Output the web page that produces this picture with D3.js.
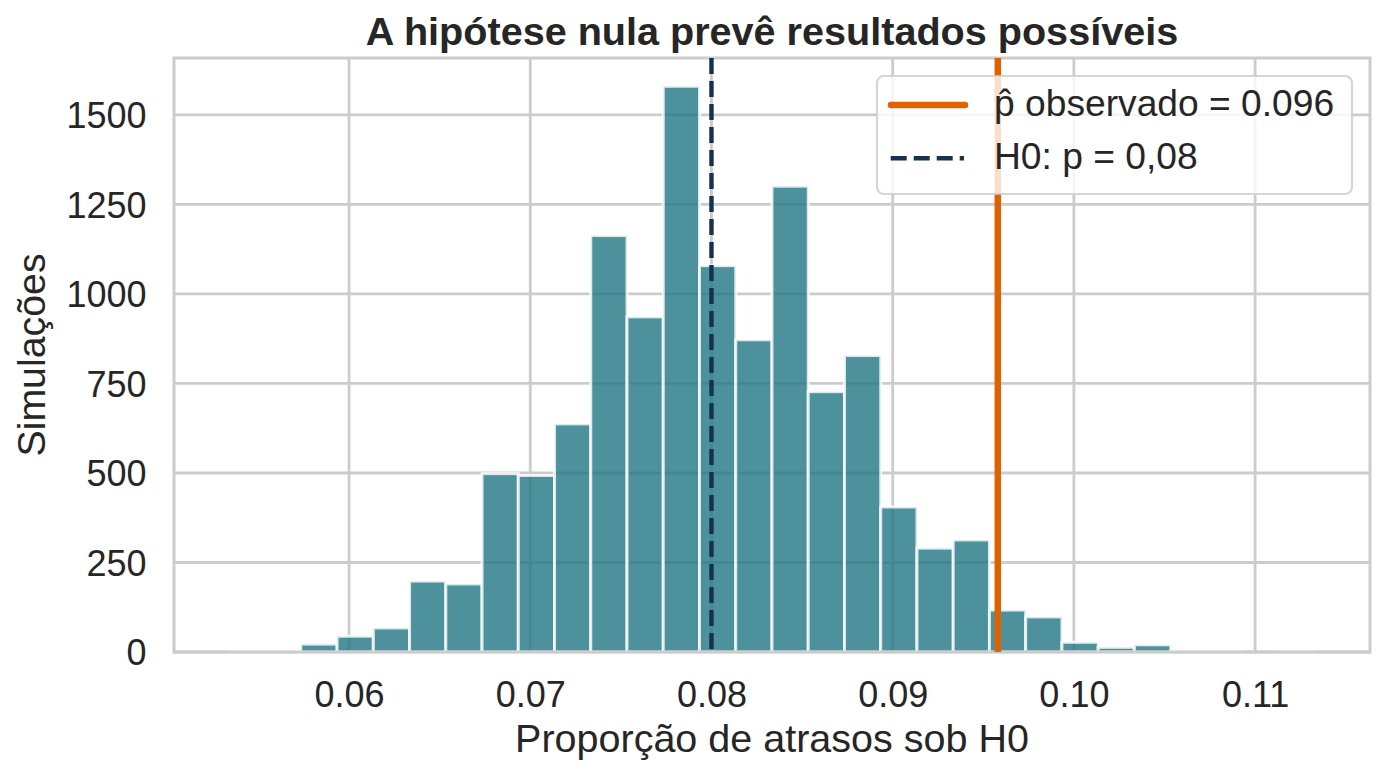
<!DOCTYPE html>
<html>
<head>
<meta charset="utf-8">
<script src="https://cdn.jsdelivr.net/npm/d3@7"></script>
<style>
  html, body { margin: 0; padding: 0; background: #ffffff; }
  svg { display: block; }
  text { font-family: "Liberation Sans", Arial, "DejaVu Sans", sans-serif; fill: #262626; }
</style>
</head>
<body>
<svg id="chart" width="1385" height="777"></svg>
<script>
// ---- data ----
const binEdges = [0.05334, 0.05534, 0.05734, 0.05934, 0.06134, 0.06334, 0.06534, 0.06734,
  0.06934, 0.07134, 0.07334, 0.07534, 0.07734, 0.07934, 0.08134, 0.08334, 0.08534,
  0.08734, 0.08934, 0.09134, 0.09334, 0.09534, 0.09734, 0.09934, 0.10134, 0.10334,
  0.10534, 0.10734, 0.10934, 0.11134, 0.11334];
const binCounts = [1, 2, 22, 44, 67, 198, 190, 498, 493, 637, 1163, 936, 1580, 1079, 872,
  1301, 727, 828, 405, 290, 313, 117, 98, 27, 13, 20, 2, 1, 0, 1];
const xTicks = [0.06, 0.07, 0.08, 0.09, 0.10, 0.11];
const xTickLabels = ["0.06", "0.07", "0.08", "0.09", "0.10", "0.11"];
const yTicks = [0, 250, 500, 750, 1000, 1250, 1500];
const pObserved = 0.0958;
const pNull = 0.08;
const legendLabels = ["p\u0302 observado = 0.096", "H0: p = 0,08"];
const titleText = "A hipótese nula prevê resultados possíveis";
const xLabelText = "Proporção de atrasos sob H0";
const yLabelText = "Simulações";

// ---- layout ----
const svg = d3.select("#chart");
const W = 1385, H = 777;
const m = { left: 174, right: 1370, top: 58, bottom: 652 };
svg.append("rect").attr("width", W).attr("height", H).attr("fill", "#ffffff");

const xmin = d3.min(binEdges), xmax = d3.max(binEdges);
const pad = 0.05 * (xmax - xmin);
const x = d3.scaleLinear().domain([xmin - pad, xmax + pad]).range([m.left, m.right]);
const y = d3.scaleLinear().domain([0, d3.max(binCounts) * 1.05]).range([m.bottom, m.top]);

const gridColor = "#cccccc";

// grid
const grid = svg.append("g");
grid.selectAll("line.vx").data(xTicks).join("line")
  .attr("x1", d => x(d)).attr("x2", d => x(d))
  .attr("y1", m.top).attr("y2", m.bottom)
  .attr("stroke", gridColor).attr("stroke-width", 2.8);
grid.selectAll("line.hy").data(yTicks).join("line")
  .attr("y1", d => y(d)).attr("y2", d => y(d))
  .attr("x1", m.left).attr("x2", m.right)
  .attr("stroke", gridColor).attr("stroke-width", 2.8);

// bars
const bins = binCounts.map((c, i) => ({ x0: binEdges[i], x1: binEdges[i + 1], c }));
svg.append("g").selectAll("rect").data(bins.filter(d => d.c > 0)).join("rect")
  .attr("x", d => x(d.x0))
  .attr("width", d => x(d.x1) - x(d.x0))
  .attr("y", d => y(d.c))
  .attr("height", d => y(0) - y(d.c))
  .attr("fill", "#1f7582").attr("fill-opacity", 0.8)
  .attr("stroke", "#ffffff").attr("stroke-opacity", 0.8).attr("stroke-width", 3);

// frame
svg.append("rect")
  .attr("x", m.left).attr("y", m.top)
  .attr("width", m.right - m.left).attr("height", m.bottom - m.top)
  .attr("fill", "none").attr("stroke", gridColor).attr("stroke-width", 3);

// reference lines
const orange = "#dc6202", navy = "#17304d";
svg.append("line")
  .attr("x1", x(pNull)).attr("x2", x(pNull)).attr("y1", m.top).attr("y2", m.bottom)
  .attr("stroke", navy).attr("stroke-width", 4.4).attr("stroke-dasharray", "16,7");
svg.append("line")
  .attr("x1", x(pObserved)).attr("x2", x(pObserved)).attr("y1", m.top).attr("y2", m.bottom)
  .attr("stroke", orange).attr("stroke-width", 6.5);

// axes tick labels
const xAxis = d3.axisBottom(x).tickValues(xTicks).tickFormat((d, i) => xTickLabels[i]).tickSize(0).tickPadding(0);
const gx = svg.append("g").attr("transform", `translate(0,${m.bottom})`).call(xAxis);
gx.select(".domain").remove();
gx.selectAll("text").attr("font-size", 36).attr("fill", "#262626")
  .attr("font-family", '"Liberation Sans", Arial, sans-serif')
  .attr("dy", null).attr("y", 54.7);

const yAxis = d3.axisLeft(y).tickValues(yTicks).tickFormat(d3.format("d")).tickSize(0).tickPadding(0);
const gy = svg.append("g").attr("transform", `translate(${m.left},0)`).call(yAxis);
gy.select(".domain").remove();
gy.selectAll("text").attr("font-size", 36).attr("fill", "#262626")
  .attr("font-family", '"Liberation Sans", Arial, sans-serif')
  .attr("x", -27.5).attr("dy", "0.35em");

// title and labels
svg.append("text").attr("x", (m.left + m.right) / 2).attr("y", 45)
  .attr("text-anchor", "middle").attr("font-size", 39.6).attr("font-weight", "bold")
  .text(titleText);
svg.append("text").attr("x", (m.left + m.right) / 2).attr("y", 751.5)
  .attr("text-anchor", "middle").attr("font-size", 39.5)
  .text(xLabelText);
svg.append("text")
  .attr("transform", `translate(45,${(m.top + m.bottom) / 2}) rotate(-90)`)
  .attr("text-anchor", "middle").attr("font-size", 39.3)
  .text(yLabelText);

// legend
const lg = svg.append("g");
lg.append("rect").attr("x", 877).attr("y", 76).attr("width", 475).attr("height", 118)
  .attr("rx", 7).attr("fill", "#ffffff").attr("fill-opacity", 0.8)
  .attr("stroke", gridColor).attr("stroke-opacity", 0.8).attr("stroke-width", 2.2);
lg.append("line").attr("x1", 891).attr("x2", 965).attr("y1", 105).attr("y2", 105)
  .attr("stroke", orange).attr("stroke-width", 6.5).attr("stroke-linecap", "round");
lg.append("line").attr("x1", 890.7).attr("x2", 964).attr("y1", 158.3).attr("y2", 158.3)
  .attr("stroke", navy).attr("stroke-width", 4.4).attr("stroke-dasharray", "16,7");
lg.selectAll("text.lt").data(legendLabels).join("text")
  .attr("x", 994).attr("y", (d, i) => [115.7, 169][i])
  .attr("font-size", 37.2).text(d => d);
</script>
</body>
</html>
